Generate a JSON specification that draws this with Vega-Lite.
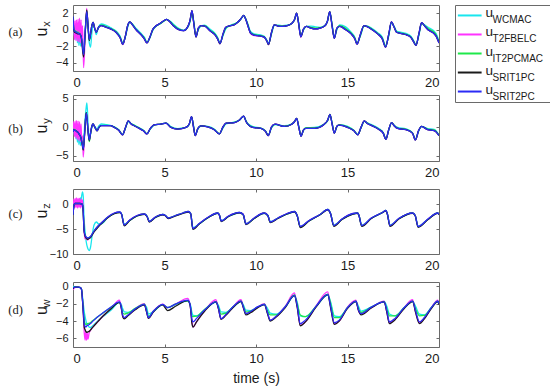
{
"$schema":"https://vega.github.io/schema/vega-lite/v6.json",
"padding":{"left":7,"top":4,"right":2,"bottom":4},
"config":{
 "view":{"stroke":"#6a6a6a","strokeWidth":1},
 "axis":{"domain":false,"grid":false,"tickSize":-3,"tickColor":"#6a6a6a","labelFont":"Liberation Sans","labelColor":"#1a1a1a","titleFont":"Liberation Sans","titleColor":"#1a1a1a","titleFontWeight":"normal"},
 "axisX":{"labelFontSize":13,"labelPadding":8},
 "axisY":{"labelFontSize":11,"labelPadding":8},
 "text":{"color":"#1a1a1a","font":"Liberation Sans"},
 "line":{"strokeWidth":1.3}
},
"datasets":{
"a":[
{"t":0,"W":1.6,"T":1.6,"I":1.6,"S1":1.6,"S2":1.6},
{"t":0.04,"W":0.5,"T":1.0,"I":0.2,"S1":0.0,"S2":0.1},
{"t":0.08,"W":-0.8,"T":-1.2,"I":-0.2,"S1":-0.3,"S2":-0.2},
{"t":0.12,"W":0.7,"T":1.1,"I":-0.1,"S1":-0.3,"S2":-0.2},
{"t":0.16,"W":-1.2,"T":-1.3,"I":-0.3,"S1":-0.4,"S2":-0.3},
{"t":0.2,"W":0.6,"T":1.2,"I":-0.2,"S1":-0.4,"S2":-0.3},
{"t":0.24,"W":-1.6,"T":-1.4,"I":-0.4,"S1":-0.5,"S2":-0.4},
{"t":0.28,"W":0.4,"T":1.3,"I":-0.3,"S1":-0.5,"S2":-0.4},
{"t":0.32,"W":-1.9,"T":-1.5,"I":-0.5,"S1":-0.5,"S2":-0.5},
{"t":0.36,"W":0.3,"T":1.4,"I":-0.4,"S1":-0.5,"S2":-0.5},
{"t":0.4,"W":-2.0,"T":-1.6,"I":-0.6,"S1":-0.6,"S2":-0.6},
{"t":0.44,"W":-0.2,"T":1.2,"I":-0.8,"S1":-0.8,"S2":-0.8},
{"t":0.48,"W":-1.6,"T":-2.0,"I":-1.2,"S1":-1.4,"S2":-1.2},
{"t":0.52,"W":-1.0,"T":0.5,"I":-2.0,"S1":-2.4,"S2":-2.1},
{"t":0.58,"W":-2.4,"T":-4.6,"I":-3.0,"S1":-3.3,"S2":-3.0},
{"t":0.66,"W":-0.5,"T":-1.0,"I":-0.6,"S1":-0.6,"S2":-0.4},
{"t":0.75,"W":1.8,"T":2.6,"I":2.3,"S1":2.4,"S2":2.2},
{"t":0.82,"W":0.2,"T":0.5,"I":0.6,"S1":0.5,"S2":0.6},
{"t":0.89,"W":-1.6,"T":-1.2,"I":-1.3,"S1":-1.3,"S2":-1.2},
{"t":0.96,"W":-2.1,"T":-0.5,"I":-0.6,"S1":-0.5,"S2":-0.5},
{"t":1.03,"W":-0.4,"T":0.5,"I":0.5,"S1":0.5,"S2":0.5},
{"t":1.1,"W":0.5,"T":0.9,"I":0.9,"S1":0.9,"S2":0.9},
{"t":1.18,"W":0.2,"T":0.3,"I":0.2,"S1":0.2,"S2":0.2},
{"t":1.27,"W":-0.6,"T":-0.3,"I":-0.3,"S1":-0.3,"S2":-0.3},
{"t":1.4,"W":0.4,"T":0.3,"I":0.3,"S1":0.3,"S2":0.3},
{"t":1.55,"W":0.7,"T":0.5,"I":0.6,"S1":0.5,"S2":0.5},
{"t":1.75,"W":0.6,"T":0.4,"I":0.45,"S1":0.35,"S2":0.35},
{"t":2.05,"W":0.25,"T":0.1,"I":0.15,"S1":0.1,"S2":0.1},
{"t":2.35,"W":-0.15,"T":-0.3,"I":-0.25,"S1":-0.3,"S2":-0.3},
{"t":2.58,"W":-0.8,"T":-1.0,"I":-0.9,"S1":-1.0,"S2":-1.0},
{"t":2.72,"W":-1.6,"T":-1.8,"I":-1.7,"S1":-1.75,"S2":-1.75},
{"t":2.86,"W":-0.9,"T":-0.8,"I":-0.8,"S1":-0.8,"S2":-0.8},
{"t":3.0,"W":0.4,"T":0.6,"I":0.55,"S1":0.6,"S2":0.6},
{"t":3.1,"W":0.9,"T":0.96,"I":0.95,"S1":0.96,"S2":0.96},
{"t":3.25,"W":0.7,"T":0.6,"I":0.65,"S1":0.6,"S2":0.6},
{"t":3.45,"W":0.15,"T":0.0,"I":0.05,"S1":0.0,"S2":0.0},
{"t":3.7,"W":-0.4,"T":-0.55,"I":-0.5,"S1":-0.55,"S2":-0.55},
{"t":3.9,"W":-0.9,"T":-1.1,"I":-1.0,"S1":-1.1,"S2":-1.1},
{"t":4.04,"W":-1.5,"T":-1.6,"I":-1.55,"S1":-1.6,"S2":-1.6},
{"t":4.2,"W":-1.0,"T":-0.9,"I":-0.95,"S1":-0.9,"S2":-0.9},
{"t":4.36,"W":-0.1,"T":0.05,"I":0.0,"S1":0.05,"S2":0.05},
{"t":4.55,"W":0.45,"T":0.5,"I":0.45,"S1":0.5,"S2":0.5},
{"t":4.75,"W":0.7,"T":0.75,"I":0.7,"S1":0.75,"S2":0.75},
{"t":5.0,"W":1.1,"T":1.15,"I":1.1,"S1":1.15,"S2":1.15},
{"t":5.1,"W":1.25,"T":1.25,"I":1.25,"S1":1.25,"S2":1.25},
{"t":5.3,"W":1.05,"T":0.95,"I":1.0,"S1":0.95,"S2":0.95},
{"t":5.5,"W":0.65,"T":0.45,"I":0.55,"S1":0.45,"S2":0.45},
{"t":5.75,"W":0.2,"T":0.05,"I":0.1,"S1":0.05,"S2":0.05},
{"t":6.05,"W":-0.05,"T":-0.1,"I":-0.1,"S1":-0.1,"S2":-0.1},
{"t":6.3,"W":0.4,"T":0.5,"I":0.45,"S1":0.5,"S2":0.5},
{"t":6.4,"W":1.0,"T":1.2,"I":1.1,"S1":1.2,"S2":1.2},
{"t":6.5,"W":2.1,"T":2.3,"I":2.2,"S1":2.3,"S2":2.3},
{"t":6.6,"W":1.0,"T":0.8,"I":0.9,"S1":0.8,"S2":0.8},
{"t":6.72,"W":-0.7,"T":-0.85,"I":-0.8,"S1":-0.9,"S2":-0.85},
{"t":6.85,"W":0.0,"T":0.2,"I":0.1,"S1":0.2,"S2":0.2},
{"t":7.0,"W":0.45,"T":0.5,"I":0.5,"S1":0.5,"S2":0.5},
{"t":7.2,"W":0.55,"T":0.45,"I":0.5,"S1":0.45,"S2":0.45},
{"t":7.5,"W":0.05,"T":-0.15,"I":-0.1,"S1":-0.15,"S2":-0.15},
{"t":7.75,"W":-0.4,"T":-0.6,"I":-0.5,"S1":-0.6,"S2":-0.6},
{"t":7.9,"W":-0.9,"T":-1.1,"I":-1.0,"S1":-1.1,"S2":-1.1},
{"t":8.03,"W":-1.6,"T":-1.7,"I":-1.65,"S1":-1.7,"S2":-1.65},
{"t":8.2,"W":-0.7,"T":-0.5,"I":-0.6,"S1":-0.5,"S2":-0.5},
{"t":8.35,"W":0.1,"T":0.3,"I":0.2,"S1":0.3,"S2":0.3},
{"t":8.6,"W":0.55,"T":0.5,"I":0.5,"S1":0.5,"S2":0.5},
{"t":8.8,"W":0.7,"T":0.6,"I":0.65,"S1":0.6,"S2":0.6},
{"t":9.0,"W":0.9,"T":0.9,"I":0.9,"S1":0.9,"S2":0.9},
{"t":9.2,"W":1.35,"T":1.4,"I":1.4,"S1":1.4,"S2":1.4},
{"t":9.33,"W":1.7,"T":1.75,"I":1.75,"S1":1.75,"S2":1.75},
{"t":9.45,"W":1.3,"T":1.2,"I":1.25,"S1":1.2,"S2":1.2},
{"t":9.57,"W":0.6,"T":0.4,"I":0.5,"S1":0.4,"S2":0.4},
{"t":9.7,"W":-0.2,"T":-0.45,"I":-0.35,"S1":-0.4,"S2":-0.4},
{"t":9.9,"W":-0.5,"T":-0.7,"I":-0.6,"S1":-0.65,"S2":-0.65},
{"t":10.2,"W":-0.6,"T":-0.75,"I":-0.7,"S1":-0.75,"S2":-0.75},
{"t":10.45,"W":-0.8,"T":-0.9,"I":-0.85,"S1":-0.9,"S2":-0.9},
{"t":10.6,"W":-1.3,"T":-1.4,"I":-1.35,"S1":-1.4,"S2":-1.4},
{"t":10.68,"W":-1.65,"T":-1.8,"I":-1.75,"S1":-1.8,"S2":-1.75},
{"t":10.85,"W":-0.5,"T":-0.3,"I":-0.4,"S1":-0.3,"S2":-0.3},
{"t":11.0,"W":0.5,"T":0.6,"I":0.55,"S1":0.6,"S2":0.6},
{"t":11.2,"W":0.55,"T":0.45,"I":0.5,"S1":0.45,"S2":0.45},
{"t":11.45,"W":0.5,"T":0.4,"I":0.45,"S1":0.4,"S2":0.4},
{"t":11.7,"W":0.55,"T":0.5,"I":0.5,"S1":0.5,"S2":0.5},
{"t":11.95,"W":0.75,"T":0.75,"I":0.75,"S1":0.75,"S2":0.75},
{"t":12.1,"W":1.15,"T":1.2,"I":1.2,"S1":1.2,"S2":1.2},
{"t":12.22,"W":1.9,"T":2.0,"I":2.0,"S1":2.0,"S2":2.0},
{"t":12.32,"W":1.0,"T":0.9,"I":0.95,"S1":0.9,"S2":0.9},
{"t":12.45,"W":-0.7,"T":-0.9,"I":-0.8,"S1":-0.85,"S2":-0.85},
{"t":12.6,"W":0.0,"T":0.1,"I":0.05,"S1":0.1,"S2":0.1},
{"t":12.75,"W":0.4,"T":0.4,"I":0.4,"S1":0.4,"S2":0.4},
{"t":13.0,"W":0.45,"T":0.2,"I":0.3,"S1":0.2,"S2":0.2},
{"t":13.25,"W":0.35,"T":0.1,"I":0.2,"S1":0.1,"S2":0.1},
{"t":13.5,"W":0.3,"T":0.2,"I":0.25,"S1":0.2,"S2":0.2},
{"t":13.75,"W":0.5,"T":0.45,"I":0.45,"S1":0.45,"S2":0.45},
{"t":13.9,"W":1.0,"T":1.0,"I":1.0,"S1":1.0,"S2":1.0},
{"t":14.03,"W":2.1,"T":2.2,"I":2.2,"S1":2.2,"S2":2.2},
{"t":14.15,"W":0.8,"T":0.6,"I":0.7,"S1":0.6,"S2":0.6},
{"t":14.28,"W":-0.9,"T":-1.05,"I":-1.0,"S1":-1.05,"S2":-1.05},
{"t":14.42,"W":0.0,"T":0.2,"I":0.1,"S1":0.2,"S2":0.2},
{"t":14.58,"W":0.6,"T":0.4,"I":0.5,"S1":0.4,"S2":0.4},
{"t":14.9,"W":0.35,"T":0.0,"I":0.15,"S1":0.0,"S2":0.0},
{"t":15.2,"W":-0.3,"T":-0.5,"I":-0.4,"S1":-0.5,"S2":-0.5},
{"t":15.4,"W":-0.9,"T":-1.1,"I":-1.0,"S1":-1.1,"S2":-1.1},
{"t":15.52,"W":-1.6,"T":-1.75,"I":-1.7,"S1":-1.75,"S2":-1.75},
{"t":15.7,"W":-0.8,"T":-0.6,"I":-0.7,"S1":-0.6,"S2":-0.6},
{"t":15.9,"W":0.4,"T":0.5,"I":0.45,"S1":0.5,"S2":0.5},
{"t":16.1,"W":0.45,"T":0.35,"I":0.4,"S1":0.35,"S2":0.35},
{"t":16.35,"W":0.15,"T":0.0,"I":0.05,"S1":0.0,"S2":0.0},
{"t":16.65,"W":-0.35,"T":-0.5,"I":-0.45,"S1":-0.5,"S2":-0.5},
{"t":16.9,"W":-0.9,"T":-1.1,"I":-1.0,"S1":-1.1,"S2":-1.1},
{"t":17.08,"W":-1.9,"T":-2.1,"I":-2.0,"S1":-2.1,"S2":-2.1},
{"t":17.25,"W":-0.8,"T":-0.6,"I":-0.7,"S1":-0.6,"S2":-0.6},
{"t":17.4,"W":0.85,"T":0.95,"I":0.9,"S1":0.95,"S2":0.95},
{"t":17.55,"W":0.4,"T":0.3,"I":0.35,"S1":0.3,"S2":0.3},
{"t":17.68,"W":-0.15,"T":-0.3,"I":-0.25,"S1":-0.3,"S2":-0.3},
{"t":17.9,"W":-0.3,"T":-0.45,"I":-0.4,"S1":-0.45,"S2":-0.45},
{"t":18.2,"W":-0.45,"T":-0.6,"I":-0.55,"S1":-0.6,"S2":-0.6},
{"t":18.45,"W":-0.75,"T":-0.9,"I":-0.85,"S1":-0.9,"S2":-0.9},
{"t":18.6,"W":-1.25,"T":-1.4,"I":-1.35,"S1":-1.4,"S2":-1.4},
{"t":18.74,"W":-1.8,"T":-1.9,"I":-1.85,"S1":-1.9,"S2":-1.9},
{"t":18.9,"W":-0.7,"T":-0.5,"I":-0.6,"S1":-0.5,"S2":-0.5},
{"t":19.05,"W":0.75,"T":0.85,"I":0.8,"S1":0.85,"S2":0.85},
{"t":19.2,"W":0.6,"T":0.5,"I":0.55,"S1":0.5,"S2":0.5},
{"t":19.4,"W":0.3,"T":0.0,"I":0.15,"S1":0.0,"S2":0.0},
{"t":19.7,"W":-0.1,"T":-0.4,"I":-0.25,"S1":-0.4,"S2":-0.4},
{"t":19.85,"W":-0.5,"T":-0.8,"I":-0.65,"S1":-0.8,"S2":-0.8},
{"t":20.0,"W":-1.4,"T":-1.6,"I":-1.5,"S1":-1.6,"S2":-1.6}
],
"b":[
{"t":0,"W":-0.5,"T":-0.8,"I":-0.8,"S1":-0.8,"S2":-0.8},
{"t":0.04,"W":0.2,"T":1.0,"I":-0.3,"S1":-0.4,"S2":-0.4},
{"t":0.08,"W":-1.4,"T":-1.6,"I":-0.5,"S1":-0.5,"S2":-0.5},
{"t":0.12,"W":0.1,"T":1.1,"I":-0.4,"S1":-0.5,"S2":-0.5},
{"t":0.16,"W":-2.0,"T":-1.9,"I":-0.6,"S1":-0.6,"S2":-0.6},
{"t":0.2,"W":-0.1,"T":1.2,"I":-0.6,"S1":-0.7,"S2":-0.7},
{"t":0.24,"W":-2.6,"T":-2.1,"I":-0.8,"S1":-0.8,"S2":-0.8},
{"t":0.28,"W":-0.3,"T":1.1,"I":-0.9,"S1":-0.9,"S2":-0.9},
{"t":0.32,"W":-3.0,"T":-2.3,"I":-1.1,"S1":-1.1,"S2":-1.1},
{"t":0.36,"W":-0.6,"T":1.0,"I":-1.3,"S1":-1.3,"S2":-1.3},
{"t":0.4,"W":-3.2,"T":-2.5,"I":-1.5,"S1":-1.5,"S2":-1.5},
{"t":0.44,"W":-1.5,"T":0.6,"I":-1.9,"S1":-1.9,"S2":-1.9},
{"t":0.48,"W":-2.6,"T":-3.0,"I":-2.5,"S1":-2.6,"S2":-2.5},
{"t":0.52,"W":-2.4,"T":-1.5,"I":-3.2,"S1":-3.4,"S2":-3.2},
{"t":0.56,"W":-3.4,"T":-5.2,"I":-3.8,"S1":-4.0,"S2":-3.8},
{"t":0.64,"W":0.5,"T":-1.0,"I":-0.8,"S1":-0.8,"S2":-0.7},
{"t":0.72,"W":3.5,"T":2.5,"I":2.6,"S1":2.6,"S2":2.5},
{"t":0.76,"W":4.3,"T":2.0,"I":1.8,"S1":1.8,"S2":1.8},
{"t":0.82,"W":1.0,"T":-0.5,"I":-0.6,"S1":-0.6,"S2":-0.5},
{"t":0.89,"W":-1.8,"T":-2.2,"I":-2.5,"S1":-2.3,"S2":-2.2},
{"t":0.96,"W":-1.2,"T":-1.0,"I":-1.1,"S1":-1.0,"S2":-1.0},
{"t":1.03,"W":0.0,"T":0.2,"I":0.2,"S1":0.2,"S2":0.2},
{"t":1.09,"W":0.4,"T":0.6,"I":0.6,"S1":0.6,"S2":0.6},
{"t":1.2,"W":0.1,"T":0.0,"I":0.0,"S1":0.0,"S2":0.0},
{"t":1.31,"W":-0.2,"T":-0.6,"I":-0.6,"S1":-0.6,"S2":-0.6},
{"t":1.42,"W":0.3,"T":0.0,"I":0.0,"S1":0.0,"S2":0.0},
{"t":1.55,"W":0.6,"T":0.3,"I":0.35,"S1":0.3,"S2":0.3},
{"t":1.8,"W":0.5,"T":0.3,"I":0.35,"S1":0.3,"S2":0.3},
{"t":2.05,"W":0.35,"T":0.3,"I":0.3,"S1":0.3,"S2":0.3},
{"t":2.26,"W":0.1,"T":0.0,"I":0.05,"S1":0.0,"S2":0.0},
{"t":2.5,"W":-0.4,"T":-0.5,"I":-0.45,"S1":-0.5,"S2":-0.5},
{"t":2.71,"W":-1.2,"T":-1.3,"I":-1.25,"S1":-1.3,"S2":-1.3},
{"t":2.86,"W":-0.2,"T":-0.1,"I":-0.15,"S1":-0.1,"S2":-0.1},
{"t":3.02,"W":1.0,"T":1.15,"I":1.1,"S1":1.15,"S2":1.15},
{"t":3.18,"W":0.7,"T":0.6,"I":0.65,"S1":0.6,"S2":0.6},
{"t":3.35,"W":0.4,"T":0.3,"I":0.35,"S1":0.3,"S2":0.3},
{"t":3.62,"W":-0.05,"T":-0.17,"I":-0.1,"S1":-0.17,"S2":-0.17},
{"t":3.85,"W":-0.5,"T":-0.6,"I":-0.55,"S1":-0.6,"S2":-0.6},
{"t":4.04,"W":-1.1,"T":-1.15,"I":-1.1,"S1":-1.15,"S2":-1.15},
{"t":4.22,"W":-0.3,"T":-0.2,"I":-0.25,"S1":-0.2,"S2":-0.2},
{"t":4.44,"W":0.4,"T":0.46,"I":0.45,"S1":0.46,"S2":0.46},
{"t":4.81,"W":0.6,"T":0.57,"I":0.6,"S1":0.57,"S2":0.57},
{"t":5.08,"W":0.8,"T":0.75,"I":0.75,"S1":0.75,"S2":0.75},
{"t":5.35,"W":0.15,"T":0.0,"I":0.05,"S1":0.0,"S2":0.0},
{"t":5.72,"W":-0.2,"T":-0.29,"I":-0.25,"S1":-0.29,"S2":-0.29},
{"t":6.17,"W":0.0,"T":0.0,"I":0.0,"S1":0.0,"S2":0.0},
{"t":6.35,"W":0.5,"T":0.6,"I":0.55,"S1":0.6,"S2":0.6},
{"t":6.48,"W":1.8,"T":1.9,"I":1.85,"S1":1.9,"S2":1.9},
{"t":6.58,"W":0.4,"T":0.2,"I":0.3,"S1":0.2,"S2":0.2},
{"t":6.68,"W":-1.3,"T":-1.45,"I":-1.4,"S1":-1.45,"S2":-1.43},
{"t":6.82,"W":-0.3,"T":-0.2,"I":-0.25,"S1":-0.2,"S2":-0.2},
{"t":6.99,"W":0.25,"T":0.29,"I":0.28,"S1":0.29,"S2":0.29},
{"t":7.36,"W":0.2,"T":0.1,"I":0.15,"S1":0.1,"S2":0.1},
{"t":7.72,"W":-0.3,"T":-0.4,"I":-0.35,"S1":-0.4,"S2":-0.4},
{"t":8.0,"W":-1.1,"T":-1.15,"I":-1.12,"S1":-1.15,"S2":-1.15},
{"t":8.18,"W":-0.2,"T":0.0,"I":-0.1,"S1":0.0,"S2":0.0},
{"t":8.36,"W":0.6,"T":0.75,"I":0.7,"S1":0.75,"S2":0.75},
{"t":8.82,"W":0.95,"T":0.86,"I":0.9,"S1":0.86,"S2":0.86},
{"t":9.1,"W":1.3,"T":1.3,"I":1.3,"S1":1.3,"S2":1.3},
{"t":9.33,"W":1.95,"T":2.0,"I":2.0,"S1":2.0,"S2":2.0},
{"t":9.45,"W":1.2,"T":1.1,"I":1.15,"S1":1.1,"S2":1.1},
{"t":9.55,"W":0.7,"T":0.57,"I":0.6,"S1":0.57,"S2":0.57},
{"t":9.82,"W":0.15,"T":0.0,"I":0.05,"S1":0.0,"S2":0.0},
{"t":10.27,"W":-0.1,"T":-0.17,"I":-0.15,"S1":-0.17,"S2":-0.17},
{"t":10.52,"W":-0.6,"T":-0.7,"I":-0.65,"S1":-0.7,"S2":-0.7},
{"t":10.67,"W":-1.35,"T":-1.45,"I":-1.4,"S1":-1.45,"S2":-1.43},
{"t":10.85,"W":-0.1,"T":0.1,"I":0.0,"S1":0.1,"S2":0.1},
{"t":11.04,"W":0.5,"T":0.57,"I":0.55,"S1":0.57,"S2":0.57},
{"t":11.55,"W":0.3,"T":0.17,"I":0.2,"S1":0.17,"S2":0.17},
{"t":11.95,"W":0.6,"T":0.57,"I":0.57,"S1":0.57,"S2":0.57},
{"t":12.1,"W":1.0,"T":1.0,"I":1.0,"S1":1.0,"S2":1.0},
{"t":12.22,"W":1.55,"T":1.6,"I":1.6,"S1":1.6,"S2":1.6},
{"t":12.34,"W":0.2,"T":0.0,"I":0.1,"S1":0.0,"S2":0.0},
{"t":12.46,"W":-1.45,"T":-1.55,"I":-1.5,"S1":-1.55,"S2":-1.55},
{"t":12.6,"W":-0.5,"T":-0.4,"I":-0.45,"S1":-0.4,"S2":-0.4},
{"t":12.73,"W":-0.05,"T":-0.17,"I":-0.1,"S1":-0.17,"S2":-0.17},
{"t":13.19,"W":0.0,"T":-0.17,"I":-0.1,"S1":-0.17,"S2":-0.17},
{"t":13.73,"W":0.6,"T":0.57,"I":0.57,"S1":0.57,"S2":0.57},
{"t":13.92,"W":1.2,"T":1.3,"I":1.25,"S1":1.3,"S2":1.3},
{"t":14.04,"W":2.2,"T":2.3,"I":2.3,"S1":2.3,"S2":2.3},
{"t":14.16,"W":0.8,"T":0.6,"I":0.7,"S1":0.6,"S2":0.6},
{"t":14.28,"W":-0.9,"T":-1.0,"I":-0.95,"S1":-1.0,"S2":-1.0},
{"t":14.42,"W":0.1,"T":0.2,"I":0.15,"S1":0.2,"S2":0.2},
{"t":14.55,"W":0.5,"T":0.4,"I":0.45,"S1":0.4,"S2":0.4},
{"t":15.01,"W":0.2,"T":0.0,"I":0.1,"S1":0.0,"S2":0.0},
{"t":15.35,"W":-0.5,"T":-0.6,"I":-0.55,"S1":-0.6,"S2":-0.6},
{"t":15.56,"W":-1.2,"T":-1.3,"I":-1.25,"S1":-1.3,"S2":-1.3},
{"t":15.75,"W":0.0,"T":0.1,"I":0.05,"S1":0.1,"S2":0.1},
{"t":15.92,"W":1.05,"T":1.15,"I":1.1,"S1":1.15,"S2":1.15},
{"t":16.08,"W":0.8,"T":0.7,"I":0.75,"S1":0.7,"S2":0.7},
{"t":16.28,"W":0.55,"T":0.4,"I":0.45,"S1":0.4,"S2":0.4},
{"t":16.74,"W":-0.25,"T":-0.4,"I":-0.35,"S1":-0.4,"S2":-0.4},
{"t":16.95,"W":-0.9,"T":-1.0,"I":-0.95,"S1":-1.0,"S2":-1.0},
{"t":17.1,"W":-2.0,"T":-2.1,"I":-2.05,"S1":-2.1,"S2":-2.1},
{"t":17.26,"W":-0.4,"T":-0.3,"I":-0.35,"S1":-0.3,"S2":-0.3},
{"t":17.41,"W":0.8,"T":0.86,"I":0.85,"S1":0.86,"S2":0.86},
{"t":17.55,"W":0.4,"T":0.3,"I":0.35,"S1":0.3,"S2":0.3},
{"t":17.74,"W":0.0,"T":-0.17,"I":-0.1,"S1":-0.17,"S2":-0.17},
{"t":18.2,"W":-0.25,"T":-0.4,"I":-0.35,"S1":-0.4,"S2":-0.4},
{"t":18.55,"W":-0.9,"T":-1.0,"I":-0.95,"S1":-1.0,"S2":-1.0},
{"t":18.71,"W":-2.1,"T":-2.2,"I":-2.15,"S1":-2.2,"S2":-2.2},
{"t":18.88,"W":-0.7,"T":-0.6,"I":-0.65,"S1":-0.6,"S2":-0.6},
{"t":19.05,"W":0.15,"T":0.17,"I":0.17,"S1":0.17,"S2":0.17},
{"t":19.38,"W":-0.2,"T":-0.4,"I":-0.3,"S1":-0.4,"S2":-0.4},
{"t":19.74,"W":-0.35,"T":-0.57,"I":-0.45,"S1":-0.57,"S2":-0.57},
{"t":20.0,"W":-1.3,"T":-1.43,"I":-1.4,"S1":-1.43,"S2":-1.43}
],
"c":[
{"t":0,"W":-2.2,"T":-2.2,"I":-2.2,"S1":-2.2,"S2":-2.2},
{"t":0.04,"W":0.0,"T":1.0,"I":-0.5,"S1":-0.6,"S2":-0.6},
{"t":0.08,"W":0.6,"T":-0.8,"I":0.0,"S1":0.0,"S2":0.0},
{"t":0.12,"W":-0.2,"T":1.1,"I":0.1,"S1":0.1,"S2":0.1},
{"t":0.16,"W":0.7,"T":-0.7,"I":0.1,"S1":0.1,"S2":0.1},
{"t":0.2,"W":-0.1,"T":1.2,"I":0.1,"S1":0.1,"S2":0.1},
{"t":0.24,"W":0.8,"T":-0.8,"I":0.1,"S1":0.1,"S2":0.1},
{"t":0.28,"W":0.0,"T":1.1,"I":0.1,"S1":0.1,"S2":0.1},
{"t":0.32,"W":0.9,"T":-0.7,"I":0.1,"S1":0.1,"S2":0.1},
{"t":0.36,"W":0.2,"T":1.1,"I":0.1,"S1":0.1,"S2":0.1},
{"t":0.4,"W":1.2,"T":-0.8,"I":0.1,"S1":0.1,"S2":0.1},
{"t":0.44,"W":0.8,"T":1.0,"I":0.0,"S1":0.0,"S2":0.0},
{"t":0.48,"W":1.8,"T":-0.6,"I":0.0,"S1":0.0,"S2":0.0},
{"t":0.52,"W":2.4,"T":0.8,"I":-0.2,"S1":-0.2,"S2":-0.2},
{"t":0.56,"W":1.5,"T":-1.5,"I":-1.5,"S1":-1.8,"S2":-1.5},
{"t":0.6,"W":-2.5,"T":-5.0,"I":-4.8,"S1":-5.2,"S2":-5.0},
{"t":0.66,"W":-5.5,"T":-7.0,"I":-6.2,"S1":-6.4,"S2":-6.2},
{"t":0.72,"W":-7.5,"T":-6.6,"I":-6.8,"S1":-6.8,"S2":-6.6},
{"t":0.8,"W":-8.8,"T":-7.2,"I":-6.8,"S1":-7.05,"S2":-6.8},
{"t":0.88,"W":-9.3,"T":-6.8,"I":-6.7,"S1":-6.9,"S2":-6.7},
{"t":0.96,"W":-8.6,"T":-6.5,"I":-6.5,"S1":-6.7,"S2":-6.5},
{"t":1.05,"W":-6.2,"T":-6.0,"I":-6.0,"S1":-6.2,"S2":-6.0},
{"t":1.15,"W":-4.2,"T":-5.4,"I":-5.4,"S1":-5.6,"S2":-5.4},
{"t":1.28,"W":-3.6,"T":-4.8,"I":-4.8,"S1":-5.0,"S2":-4.8},
{"t":1.4,"W":-4.0,"T":-4.3,"I":-4.3,"S1":-4.5,"S2":-4.3},
{"t":1.55,"W":-4.0,"T":-3.8,"I":-3.8,"S1":-3.95,"S2":-3.8},
{"t":1.9,"W":-2.7,"T":-2.6,"I":-2.65,"S1":-2.75,"S2":-2.6},
{"t":2.26,"W":-1.9,"T":-1.8,"I":-1.85,"S1":-1.95,"S2":-1.8},
{"t":2.55,"W":-1.6,"T":-1.6,"I":-1.65,"S1":-1.7,"S2":-1.6},
{"t":2.65,"W":-1.9,"T":-2.0,"I":-2.0,"S1":-2.0,"S2":-2.0},
{"t":2.8,"W":-4.0,"T":-4.2,"I":-4.2,"S1":-4.35,"S2":-4.2},
{"t":3.1,"W":-3.3,"T":-3.2,"I":-3.3,"S1":-3.3,"S2":-3.2},
{"t":3.5,"W":-2.4,"T":-2.3,"I":-2.35,"S1":-2.4,"S2":-2.3},
{"t":3.9,"W":-2.0,"T":-1.95,"I":-2.0,"S1":-2.05,"S2":-2.0},
{"t":4.05,"W":-2.4,"T":-2.5,"I":-2.5,"S1":-2.55,"S2":-2.5},
{"t":4.17,"W":-3.4,"T":-3.5,"I":-3.5,"S1":-3.6,"S2":-3.5},
{"t":4.5,"W":-2.7,"T":-2.6,"I":-2.65,"S1":-2.7,"S2":-2.6},
{"t":4.9,"W":-2.1,"T":-2.1,"I":-2.1,"S1":-2.15,"S2":-2.1},
{"t":5.05,"W":-2.3,"T":-2.3,"I":-2.3,"S1":-2.35,"S2":-2.3},
{"t":5.2,"W":-2.8,"T":-2.8,"I":-2.8,"S1":-2.9,"S2":-2.8},
{"t":5.6,"W":-2.35,"T":-2.3,"I":-2.3,"S1":-2.4,"S2":-2.3},
{"t":6.0,"W":-1.85,"T":-1.8,"I":-1.8,"S1":-1.9,"S2":-1.8},
{"t":6.3,"W":-1.55,"T":-1.5,"I":-1.5,"S1":-1.6,"S2":-1.5},
{"t":6.43,"W":-1.9,"T":-1.9,"I":-1.9,"S1":-1.95,"S2":-1.9},
{"t":6.55,"W":-4.7,"T":-4.9,"I":-4.95,"S1":-5.05,"S2":-4.9},
{"t":6.9,"W":-3.95,"T":-3.9,"I":-3.95,"S1":-4.0,"S2":-3.9},
{"t":7.4,"W":-2.7,"T":-2.6,"I":-2.65,"S1":-2.7,"S2":-2.6},
{"t":7.9,"W":-1.85,"T":-1.8,"I":-1.8,"S1":-1.85,"S2":-1.8},
{"t":8.0,"W":-2.2,"T":-2.2,"I":-2.2,"S1":-2.25,"S2":-2.2},
{"t":8.1,"W":-3.3,"T":-3.4,"I":-3.45,"S1":-3.5,"S2":-3.4},
{"t":8.5,"W":-2.5,"T":-2.4,"I":-2.45,"S1":-2.5,"S2":-2.4},
{"t":9.1,"W":-1.75,"T":-1.7,"I":-1.7,"S1":-1.75,"S2":-1.7},
{"t":9.3,"W":-2.1,"T":-2.0,"I":-2.1,"S1":-2.15,"S2":-2.1},
{"t":9.45,"W":-3.9,"T":-3.9,"I":-4.0,"S1":-4.1,"S2":-4.0},
{"t":9.9,"W":-2.9,"T":-2.8,"I":-2.85,"S1":-2.9,"S2":-2.8},
{"t":10.45,"W":-1.85,"T":-1.75,"I":-1.8,"S1":-1.85,"S2":-1.8},
{"t":10.65,"W":-2.3,"T":-2.3,"I":-2.3,"S1":-2.35,"S2":-2.3},
{"t":10.78,"W":-3.5,"T":-3.6,"I":-3.65,"S1":-3.7,"S2":-3.6},
{"t":11.2,"W":-2.85,"T":-2.8,"I":-2.8,"S1":-2.9,"S2":-2.8},
{"t":11.7,"W":-2.0,"T":-1.9,"I":-1.95,"S1":-2.0,"S2":-1.9},
{"t":12.1,"W":-1.55,"T":-1.5,"I":-1.5,"S1":-1.55,"S2":-1.5},
{"t":12.25,"W":-2.3,"T":-2.3,"I":-2.3,"S1":-2.35,"S2":-2.3},
{"t":12.42,"W":-4.4,"T":-4.5,"I":-4.6,"S1":-4.7,"S2":-4.5},
{"t":12.9,"W":-3.35,"T":-3.3,"I":-3.35,"S1":-3.4,"S2":-3.3},
{"t":13.5,"W":-2.15,"T":-2.1,"I":-2.1,"S1":-2.15,"S2":-2.1},
{"t":13.92,"W":-1.1,"T":-1.1,"I":-1.1,"S1":-1.15,"S2":-1.1},
{"t":14.08,"W":-1.9,"T":-2.0,"I":-2.0,"S1":-2.0,"S2":-2.0},
{"t":14.25,"W":-4.2,"T":-4.3,"I":-4.35,"S1":-4.45,"S2":-4.3},
{"t":14.7,"W":-3.05,"T":-3.0,"I":-3.05,"S1":-3.1,"S2":-3.0},
{"t":15.3,"W":-2.0,"T":-1.9,"I":-1.95,"S1":-2.0,"S2":-1.9},
{"t":15.55,"W":-1.8,"T":-1.8,"I":-1.8,"S1":-1.85,"S2":-1.8},
{"t":15.62,"W":-2.2,"T":-2.2,"I":-2.2,"S1":-2.25,"S2":-2.2},
{"t":15.78,"W":-4.2,"T":-4.3,"I":-4.35,"S1":-4.45,"S2":-4.3},
{"t":16.3,"W":-2.85,"T":-2.8,"I":-2.85,"S1":-2.9,"S2":-2.8},
{"t":16.9,"W":-1.75,"T":-1.7,"I":-1.7,"S1":-1.75,"S2":-1.7},
{"t":17.1,"W":-1.3,"T":-1.3,"I":-1.3,"S1":-1.35,"S2":-1.3},
{"t":17.18,"W":-2.0,"T":-2.0,"I":-2.0,"S1":-2.05,"S2":-2.0},
{"t":17.32,"W":-4.2,"T":-4.3,"I":-4.35,"S1":-4.45,"S2":-4.3},
{"t":17.8,"W":-2.95,"T":-2.9,"I":-2.95,"S1":-3.0,"S2":-2.9},
{"t":18.56,"W":-1.8,"T":-1.8,"I":-1.8,"S1":-1.85,"S2":-1.8},
{"t":18.7,"W":-2.3,"T":-2.3,"I":-2.3,"S1":-2.35,"S2":-2.3},
{"t":18.86,"W":-4.4,"T":-4.5,"I":-4.55,"S1":-4.65,"S2":-4.5},
{"t":19.4,"W":-3.0,"T":-3.0,"I":-3.05,"S1":-3.1,"S2":-3.0},
{"t":19.93,"W":-1.8,"T":-1.8,"I":-1.8,"S1":-1.85,"S2":-1.8},
{"t":20.0,"W":-2.1,"T":-2.1,"I":-2.1,"S1":-2.15,"S2":-2.1}
],
"d":[
{"t":0,"W":0.0,"T":-0.4,"I":-0.2,"S1":-0.3,"S2":-0.2},
{"t":0.1,"W":-0.05,"T":-0.15,"I":-0.1,"S1":-0.1,"S2":-0.1},
{"t":0.2,"W":-0.1,"T":-0.1,"I":-0.1,"S1":-0.1,"S2":-0.1},
{"t":0.3,"W":-0.1,"T":-0.1,"I":-0.1,"S1":-0.1,"S2":-0.1},
{"t":0.4,"W":-0.15,"T":-0.15,"I":-0.15,"S1":-0.15,"S2":-0.15},
{"t":0.46,"W":-0.3,"T":-0.3,"I":-0.3,"S1":-0.3,"S2":-0.3},
{"t":0.55,"W":-1.8,"T":-2.6,"I":-2.3,"S1":-2.6,"S2":-2.4},
{"t":0.62,"W":-3.0,"T":-5.5,"I":-4.0,"S1":-4.8,"S2":-4.4},
{"t":0.66,"W":-3.5,"T":-6.2,"I":-4.3,"S1":-5.0,"S2":-4.6},
{"t":0.7,"W":-3.9,"T":-5.2,"I":-4.4,"S1":-5.2,"S2":-4.7},
{"t":0.74,"W":-4.2,"T":-6.2,"I":-4.4,"S1":-5.3,"S2":-4.6},
{"t":0.78,"W":-4.4,"T":-5.4,"I":-4.3,"S1":-5.3,"S2":-4.5},
{"t":0.82,"W":-4.55,"T":-6.1,"I":-4.3,"S1":-5.25,"S2":-4.5},
{"t":0.88,"W":-4.7,"T":-5.4,"I":-4.25,"S1":-5.2,"S2":-4.4},
{"t":0.95,"W":-4.75,"T":-5.1,"I":-4.2,"S1":-5.05,"S2":-4.3},
{"t":1.05,"W":-4.6,"T":-4.8,"I":-4.0,"S1":-4.8,"S2":-4.1},
{"t":1.3,"W":-4.1,"T":-4.2,"I":-3.6,"S1":-4.2,"S2":-3.6},
{"t":1.7,"W":-3.4,"T":-3.3,"I":-3.0,"S1":-3.3,"S2":-2.96},
{"t":2.1,"W":-2.7,"T":-2.5,"I":-2.4,"S1":-2.55,"S2":-2.35},
{"t":2.53,"W":-1.85,"T":-1.6,"I":-1.85,"S1":-1.85,"S2":-1.8},
{"t":2.62,"W":-2.0,"T":-2.2,"I":-2.2,"S1":-2.3,"S2":-2.2},
{"t":2.72,"W":-2.6,"T":-3.5,"I":-3.1,"S1":-3.5,"S2":-3.35},
{"t":2.8,"W":-2.95,"T":-3.7,"I":-3.2,"S1":-3.75,"S2":-3.6},
{"t":3.0,"W":-3.0,"T":-3.35,"I":-3.1,"S1":-3.4,"S2":-3.3},
{"t":3.4,"W":-2.6,"T":-2.6,"I":-2.55,"S1":-2.7,"S2":-2.6},
{"t":3.9,"W":-2.15,"T":-2.0,"I":-2.05,"S1":-2.15,"S2":-2.08},
{"t":4.02,"W":-2.4,"T":-2.9,"I":-2.7,"S1":-2.95,"S2":-2.85},
{"t":4.12,"W":-3.2,"T":-3.65,"I":-3.5,"S1":-3.7,"S2":-3.6},
{"t":4.4,"W":-2.9,"T":-2.85,"I":-2.85,"S1":-2.95,"S2":-2.85},
{"t":4.9,"W":-2.15,"T":-2.05,"I":-2.1,"S1":-2.15,"S2":-2.08},
{"t":5.05,"W":-2.3,"T":-2.3,"I":-2.3,"S1":-2.5,"S2":-2.3},
{"t":5.17,"W":-2.45,"T":-2.45,"I":-2.45,"S1":-2.8,"S2":-2.46},
{"t":5.6,"W":-2.1,"T":-2.05,"I":-2.05,"S1":-2.3,"S2":-2.05},
{"t":6.27,"W":-1.7,"T":-1.4,"I":-1.65,"S1":-1.65,"S2":-1.6},
{"t":6.4,"W":-2.0,"T":-2.2,"I":-2.1,"S1":-2.2,"S2":-2.1},
{"t":6.5,"W":-3.0,"T":-4.0,"I":-3.4,"S1":-4.3,"S2":-3.8},
{"t":6.56,"W":-3.35,"T":-4.7,"I":-3.5,"S1":-4.7,"S2":-4.1},
{"t":6.75,"W":-3.4,"T":-4.1,"I":-3.45,"S1":-4.1,"S2":-3.7},
{"t":7.2,"W":-2.7,"T":-2.8,"I":-2.65,"S1":-2.85,"S2":-2.7},
{"t":7.81,"W":-1.85,"T":-1.55,"I":-1.8,"S1":-1.8,"S2":-1.8},
{"t":7.95,"W":-2.2,"T":-2.6,"I":-2.4,"S1":-2.6,"S2":-2.5},
{"t":8.09,"W":-2.95,"T":-3.75,"I":-3.2,"S1":-3.8,"S2":-3.73},
{"t":8.35,"W":-3.0,"T":-3.3,"I":-3.1,"S1":-3.35,"S2":-3.25},
{"t":8.7,"W":-2.5,"T":-2.5,"I":-2.45,"S1":-2.55,"S2":-2.45},
{"t":9.18,"W":-1.75,"T":-1.55,"I":-1.7,"S1":-1.75,"S2":-1.7},
{"t":9.32,"W":-2.2,"T":-2.5,"I":-2.35,"S1":-2.55,"S2":-2.45},
{"t":9.45,"W":-2.75,"T":-3.1,"I":-2.95,"S1":-3.3,"S2":-3.15},
{"t":9.7,"W":-2.8,"T":-2.95,"I":-2.85,"S1":-3.05,"S2":-2.9},
{"t":10.1,"W":-2.4,"T":-2.4,"I":-2.4,"S1":-2.45,"S2":-2.35},
{"t":10.46,"W":-2.1,"T":-2.0,"I":-2.05,"S1":-2.1,"S2":-2.08},
{"t":10.62,"W":-2.5,"T":-3.0,"I":-2.8,"S1":-3.1,"S2":-2.95},
{"t":10.78,"W":-3.1,"T":-3.9,"I":-3.3,"S1":-4.0,"S2":-3.9},
{"t":11.1,"W":-3.2,"T":-3.5,"I":-3.3,"S1":-3.55,"S2":-3.45},
{"t":11.6,"W":-2.4,"T":-2.3,"I":-2.35,"S1":-2.45,"S2":-2.35},
{"t":12.1,"W":-1.1,"T":-0.77,"I":-1.0,"S1":-1.05,"S2":-1.04},
{"t":12.25,"W":-1.8,"T":-2.3,"I":-2.0,"S1":-2.4,"S2":-2.2},
{"t":12.42,"W":-3.4,"T":-4.5,"I":-3.3,"S1":-4.55,"S2":-4.3},
{"t":12.7,"W":-3.5,"T":-4.1,"I":-3.5,"S1":-4.1,"S2":-3.9},
{"t":13.3,"W":-2.3,"T":-2.2,"I":-2.25,"S1":-2.35,"S2":-2.25},
{"t":13.92,"W":-1.0,"T":-0.65,"I":-0.9,"S1":-0.95,"S2":-0.92},
{"t":14.08,"W":-1.8,"T":-2.4,"I":-2.0,"S1":-2.5,"S2":-2.3},
{"t":14.28,"W":-3.4,"T":-4.3,"I":-3.6,"S1":-4.4,"S2":-4.2},
{"t":14.55,"W":-3.5,"T":-4.0,"I":-3.6,"S1":-4.0,"S2":-3.9},
{"t":15.0,"W":-2.5,"T":-2.4,"I":-2.45,"S1":-2.55,"S2":-2.45},
{"t":15.46,"W":-1.75,"T":-1.6,"I":-1.7,"S1":-1.75,"S2":-1.7},
{"t":15.6,"W":-2.3,"T":-2.8,"I":-2.6,"S1":-2.8,"S2":-2.7},
{"t":15.74,"W":-2.85,"T":-3.2,"I":-3.0,"S1":-3.3,"S2":-3.15},
{"t":16.3,"W":-2.4,"T":-2.45,"I":-2.4,"S1":-2.5,"S2":-2.4},
{"t":17.0,"W":-1.75,"T":-1.7,"I":-1.8,"S1":-1.8,"S2":-1.8},
{"t":17.15,"W":-2.3,"T":-3.0,"I":-2.6,"S1":-3.0,"S2":-2.8},
{"t":17.29,"W":-3.2,"T":-4.2,"I":-3.4,"S1":-4.3,"S2":-4.1},
{"t":17.6,"W":-3.4,"T":-3.8,"I":-3.4,"S1":-3.85,"S2":-3.7},
{"t":18.1,"W":-2.5,"T":-2.45,"I":-2.45,"S1":-2.55,"S2":-2.45},
{"t":18.56,"W":-1.75,"T":-1.55,"I":-1.7,"S1":-1.75,"S2":-1.7},
{"t":18.72,"W":-2.3,"T":-3.0,"I":-2.6,"S1":-3.0,"S2":-2.8},
{"t":18.93,"W":-3.2,"T":-4.2,"I":-3.4,"S1":-4.3,"S2":-4.1},
{"t":19.2,"W":-3.3,"T":-3.7,"I":-3.35,"S1":-3.75,"S2":-3.6},
{"t":19.6,"W":-2.4,"T":-2.4,"I":-2.4,"S1":-2.5,"S2":-2.4},
{"t":19.93,"W":-1.75,"T":-1.6,"I":-1.7,"S1":-1.75,"S2":-1.7},
{"t":20.0,"W":-2.0,"T":-2.0,"I":-2.0,"S1":-2.1,"S2":-2.0}
],
"leg":[
{"s":"W","n":"WCMAC"},{"s":"T","n":"T2FBELC"},{"s":"I","n":"IT2PCMAC"},{"s":"S1","n":"SRIT1PC"},{"s":"S2","n":"SRIT2PC"}
]
},
"hconcat":[
 {"vconcat":[
  {"width":366,"height":66,
   "layer":[
    {"data":{"name":"a"},"transform":[{"fold":["W","T","I","S1","S2"],"as":["s","v"]}],
     "mark":{"type":"line","interpolate":"monotone","clip":true},
     "encoding":{
      "x":{"field":"t","type":"quantitative","scale":{"domain":[0,20],"nice":false,"zero":false},"axis":{"values":[0,5,10,15,20],"title":null}},
      "y":{"field":"v","type":"quantitative","scale":{"domain":[-5,3],"nice":false,"zero":false},"axis":{"values":[-4,-2,0,2],"title":null}},
      "color":{"field":"s","type":"nominal","scale":{"domain":["W","T","I","S1","S2"],"range":["#19e6ee","#ff33ff","#1fe84a","#1a1a1a","#2b2bf5"]},"legend":null}}},
    {"data":{"values":[{}]},"mark":{"type":"point","opacity":0},
     "encoding":{"x":{"datum":10,"type":"quantitative","axis":{"orient":"top","labels":false,"values":[5,10,15],"title":null}},
                 "y":{"datum":0,"type":"quantitative","axis":{"orient":"right","labels":false,"values":[-4,-2,0,2],"title":null}}}},
    {"data":{"values":[{}]},"mark":{"type":"text","text":"(a)","font":"Liberation Serif","fontSize":12.5},
     "encoding":{"x":{"datum":-3.14,"type":"quantitative","axis":null},"y":{"datum":-0.27,"type":"quantitative","axis":null}}},
    {"data":{"values":[{}]},"mark":{"type":"text","text":"u","fontSize":16,"angle":270},
     "encoding":{"x":{"datum":-1.69,"type":"quantitative","axis":null},"y":{"datum":-0.27,"type":"quantitative","axis":null}}},
    {"data":{"values":[{}]},"mark":{"type":"text","text":"x","fontSize":11,"angle":270},
     "encoding":{"x":{"datum":-1.42,"type":"quantitative","axis":null},"y":{"datum":0.7,"type":"quantitative","axis":null}}}
   ],
   "resolve":{"axis":{"x":"independent","y":"independent"}}},
  {"vconcat":[
   {"width":366,"height":66,
    "layer":[
     {"data":{"name":"b"},"transform":[{"fold":["W","T","I","S1","S2"],"as":["s","v"]}],
      "mark":{"type":"line","interpolate":"monotone","clip":true},
      "encoding":{
       "x":{"field":"t","type":"quantitative","scale":{"domain":[0,20],"nice":false,"zero":false},"axis":{"values":[0,5,10,15,20],"title":null}},
       "y":{"field":"v","type":"quantitative","scale":{"domain":[-5.9,5.7],"nice":false,"zero":false},"axis":{"values":[-5,0,5],"title":null}},
       "color":{"field":"s","type":"nominal","scale":{"domain":["W","T","I","S1","S2"],"range":["#19e6ee","#ff33ff","#1fe84a","#1a1a1a","#2b2bf5"]},"legend":null}}},
     {"data":{"values":[{}]},"mark":{"type":"point","opacity":0},
      "encoding":{"x":{"datum":10,"type":"quantitative","axis":{"orient":"top","labels":false,"values":[5,10,15],"title":null}},
                  "y":{"datum":0,"type":"quantitative","axis":{"orient":"right","labels":false,"values":[-5,0,5],"title":null}}}},
     {"data":{"values":[{}]},"mark":{"type":"text","text":"(b)","font":"Liberation Serif","fontSize":12.5},
      "encoding":{"x":{"datum":-3.14,"type":"quantitative","axis":null},"y":{"datum":-0.28,"type":"quantitative","axis":null}}},
     {"data":{"values":[{}]},"mark":{"type":"text","text":"u","fontSize":16,"angle":270},
      "encoding":{"x":{"datum":-1.69,"type":"quantitative","axis":null},"y":{"datum":-0.28,"type":"quantitative","axis":null}}},
     {"data":{"values":[{}]},"mark":{"type":"text","text":"y","fontSize":11,"angle":270},
      "encoding":{"x":{"datum":-1.42,"type":"quantitative","axis":null},"y":{"datum":1.13,"type":"quantitative","axis":null}}}
    ],
    "resolve":{"axis":{"x":"independent","y":"independent"}}},
   {"width":366,"height":65,
    "layer":[
     {"data":{"name":"c"},"transform":[{"fold":["W","T","I","S1","S2"],"as":["s","v"]}],
      "mark":{"type":"line","interpolate":"monotone","clip":true},
      "encoding":{
       "x":{"field":"t","type":"quantitative","scale":{"domain":[0,20],"nice":false,"zero":false},"axis":{"values":[0,5,10,15,20],"title":null}},
       "y":{"field":"v","type":"quantitative","scale":{"domain":[-10,3],"nice":false,"zero":false},"axis":{"values":[-10,-5,0],"title":null}},
       "color":{"field":"s","type":"nominal","scale":{"domain":["W","T","I","S1","S2"],"range":["#19e6ee","#ff33ff","#1fe84a","#1a1a1a","#2b2bf5"]},"legend":null}}},
     {"data":{"values":[{}]},"mark":{"type":"point","opacity":0},
      "encoding":{"x":{"datum":10,"type":"quantitative","axis":{"orient":"top","labels":false,"values":[5,10,15],"title":null}},
                  "y":{"datum":0,"type":"quantitative","axis":{"orient":"right","labels":false,"values":[-5,0],"title":null}}}},
     {"data":{"values":[{}]},"mark":{"type":"text","text":"(c)","font":"Liberation Serif","fontSize":12.5},
      "encoding":{"x":{"datum":-3.14,"type":"quantitative","axis":null},"y":{"datum":-2.0,"type":"quantitative","axis":null}}},
     {"data":{"values":[{}]},"mark":{"type":"text","text":"u","fontSize":16,"angle":270},
      "encoding":{"x":{"datum":-1.69,"type":"quantitative","axis":null},"y":{"datum":-2.0,"type":"quantitative","axis":null}}},
     {"data":{"values":[{}]},"mark":{"type":"text","text":"z","fontSize":11,"angle":270},
      "encoding":{"x":{"datum":-1.42,"type":"quantitative","axis":null},"y":{"datum":-0.4,"type":"quantitative","axis":null}}}
    ],
    "resolve":{"axis":{"x":"independent","y":"independent"}}},
   {"width":366,"height":65,
    "layer":[
     {"data":{"name":"d"},"transform":[{"fold":["W","T","I","S1","S2"],"as":["s","v"]}],
      "mark":{"type":"line","interpolate":"monotone","clip":true},
      "encoding":{
       "x":{"field":"t","type":"quantitative","scale":{"domain":[0,20],"nice":false,"zero":false},"axis":{"values":[0,5,10,15,20],"title":"time (s)","titleFontSize":14,"titlePadding":6}},
       "y":{"field":"v","type":"quantitative","scale":{"domain":[-7,0.5],"nice":false,"zero":false},"axis":{"values":[-6,-4,-2,0],"title":null}},
       "color":{"field":"s","type":"nominal","scale":{"domain":["W","T","I","S1","S2"],"range":["#19e6ee","#ff33ff","#1fe84a","#1a1a1a","#2b2bf5"]},"legend":null}}},
     {"data":{"values":[{}]},"mark":{"type":"point","opacity":0},
      "encoding":{"x":{"datum":10,"type":"quantitative","axis":{"orient":"top","labels":false,"values":[5,10,15],"title":null}},
                  "y":{"datum":0,"type":"quantitative","axis":{"orient":"right","labels":false,"values":[-6,-4,-2,0],"title":null}}}},
     {"data":{"values":[{}]},"mark":{"type":"text","text":"(d)","font":"Liberation Serif","fontSize":12.5},
      "encoding":{"x":{"datum":-3.14,"type":"quantitative","axis":null},"y":{"datum":-2.78,"type":"quantitative","axis":null}}},
     {"data":{"values":[{}]},"mark":{"type":"text","text":"u","fontSize":16,"angle":270},
      "encoding":{"x":{"datum":-1.69,"type":"quantitative","axis":null},"y":{"datum":-2.78,"type":"quantitative","axis":null}}},
     {"data":{"values":[{}]},"mark":{"type":"text","text":"w","fontSize":11,"angle":270},
      "encoding":{"x":{"datum":-1.42,"type":"quantitative","axis":null},"y":{"datum":-1.99,"type":"quantitative","axis":null}}}
    ],
    "resolve":{"axis":{"x":"independent","y":"independent"}}}
  ],"spacing":28,"bounds":"flush"}
 ],"spacing":24,"bounds":"flush"},
 {"width":95,"height":97,
  "data":{"name":"leg"},
  "encoding":{"y":{"field":"s","type":"nominal","scale":{"type":"point","domain":["W","T","I","S1","S2"],"padding":0.55},"axis":null}},
  "layer":[
   {"mark":{"type":"rule","strokeWidth":2},
    "encoding":{"x":{"datum":0.3,"type":"quantitative","scale":{"domain":[0,10],"nice":false},"axis":null},"x2":{"datum":2.8},
     "color":{"field":"s","type":"nominal","scale":{"domain":["W","T","I","S1","S2"],"range":["#19e6ee","#ff33ff","#1fe84a","#1a1a1a","#2b2bf5"]},"legend":null}}},
   {"mark":{"type":"text","text":"u","fontSize":13.5,"dy":-2},
    "encoding":{"x":{"datum":3.6,"type":"quantitative"}}},
   {"mark":{"type":"text","align":"left","fontSize":10,"dy":5},
    "encoding":{"x":{"datum":3.95,"type":"quantitative"},"text":{"field":"n"}}}
  ]}
],
"spacing":14
}
